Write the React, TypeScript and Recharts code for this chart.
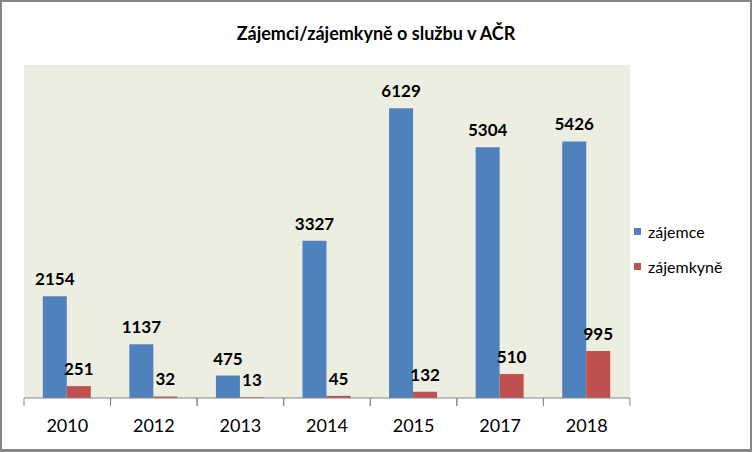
import React from "react";
import { BarChart, Bar, XAxis, YAxis, LabelList } from "recharts";

const categories = ["2010", "2012", "2013", "2014", "2015", "2017", "2018"];
const zajemce = [2154, 1137, 475, 3327, 6129, 5304, 5426];
const zajemkyne = [251, 32, 13, 45, 132, 510, 995];
const seriesNames = ["zájemce", "zájemkyně"];
const seriesColors = ["#4F81BD", "#C0504D"];

const data = categories.map((c, i) => ({ year: c, a: zajemce[i], b: zajemkyne[i] }));

const FONT = "Lato, 'Noto Sans', sans-serif";

const Tick = (props: any) => {
  const { x, y, payload } = props;
  const half = payload && payload.offset ? payload.offset : 43.3;
  return (
    <g>
      <line x1={x - half} x2={x - half} y1={y - 8} y2={y} stroke="#868686" strokeWidth={1} />
      <line x1={x + half} x2={x + half} y1={y - 8} y2={y} stroke="#868686" strokeWidth={1} />
      <text x={x} y={y + 26} textAnchor="middle" fontFamily={FONT} fontSize={18} fill="#000">
        {payload.value}
      </text>
    </g>
  );
};

export default function App() {
  return (
    <div style={{ width: 752, height: 452, position: "relative", boxSizing: "border-box", border: "2px solid #868686", borderBottomWidth: 3, background: "#fff" }}>
      <style>{"body{margin:0}"}</style>
      <div style={{ position: "absolute", left: 0, top: 20, width: 748, textAlign: "center", fontFamily: FONT, fontWeight: 700, fontSize: 18, color: "#000" }}>
        Zájemci/zájemkyně o službu v AČR
      </div>
      <div style={{ position: "absolute", left: -2, top: -2 }}>
        <BarChart width={752} height={452} data={data} margin={{ top: 67, left: 24, right: 122, bottom: 0 }} barCategoryGap="21.7%" barGap={0}>
          <rect x={24} y={65} width={606} height={333} fill="#EDEEE2" />
          <YAxis hide domain={[0, 7000]} />
          <XAxis dataKey="year" axisLine={{ stroke: "#868686" }} tickLine={false} tick={<Tick />} height={54} interval={0} />
          {["a", "b"].map((k, i) => (
            <Bar key={k} dataKey={k} name={seriesNames[i]} fill={seriesColors[i]} isAnimationActive={false}>
              <LabelList dataKey={k} position="top" offset={11} style={{ fontFamily: FONT, fontWeight: 700, fontSize: 17, fill: "#000" }} />
            </Bar>
          ))}
        </BarChart>
      </div>
      <div style={{ position: "absolute", left: 632, top: 212, fontFamily: FONT, fontSize: 16, color: "#000" }}>
        {seriesNames.map((n, i) => (
          <div key={n} style={{ display: "flex", alignItems: "center", height: 35 }}>
            <span style={{ width: 7, height: 7, background: seriesColors[i], display: "inline-block", marginRight: 7 }} />
            <span>{n}</span>
          </div>
        ))}
      </div>
    </div>
  );
}
